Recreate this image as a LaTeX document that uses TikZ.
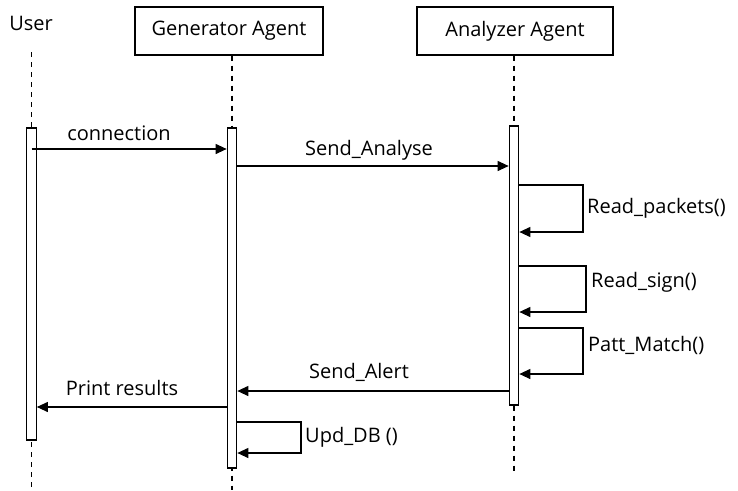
\documentclass[tikz,border=0pt]{standalone}
\usepackage{fontspec}
\setmainfont{Open Sans}
\usetikzlibrary{arrows.meta}
\begin{document}
\begin{tikzpicture}[x=1pt,y=-1pt,
  every node/.style={font=\fontsize{20}{24}\selectfont, inner sep=0pt},
  lifebox/.style={draw, line width=1.2pt, minimum height=48pt},
  actbar/.style={draw, fill=white, line width=1.2pt, minimum width=9.5pt},
  lifeline/.style={line width=1.1pt, dash pattern=on 5pt off 5pt},
  msg/.style={line width=1.1pt, -{Triangle[length=11pt,width=10pt]}},
  lbl/.style={anchor=center},
  lbll/.style={anchor=west}]
\useasboundingbox (0,0) rectangle (738,490);

% participants
\node (user) at (31,23) {User};
\node[lifebox, minimum width=188pt] (gen) at (229,31) {Generator Agent};
\node[lifebox, minimum width=196pt] (ana) at (515,31) {Analyzer Agent};

% lifelines (drawn first so the activation bars cover them)
\coordinate (uTop) at (31.5,52);
\coordinate (uEnd) at (31.5,490);
\coordinate (gEnd) at (232,490);
\coordinate (aEnd) at (514,473);
\draw[lifeline] (uTop) -- (uEnd);
\draw[lifeline] (gen.south -| gEnd) -- (gEnd);
\draw[lifeline] (ana.south -| aEnd) -- (aEnd);

% activation bars
\node[actbar, minimum height=312pt] (actU) at (31.5,284) {};
\node[actbar, minimum height=340pt] (actG) at (232,298) {};
\node[actbar, minimum height=279pt] (actA) at (514,265.5) {};

% messages
\draw[msg] (actU.center |- 0,149) -- (actG.west |- 0,149);
\node[lbl] (lConn) at (119,133) {connection};
\draw[msg] (actG.east |- 0,166) -- (actA.west |- 0,166);
\node[lbl] (lSend) at (369,150) {Send\_Analyse};

% self calls on the analyzer
\coordinate (rp) at (583,0);
\draw[msg] (actA.east |- 0,185) -| (rp |- 0,208) |- (actA.east |- 0,232);
\node[lbll] (lRP) at (587,208) {Read\_packets()};
\coordinate (rs) at (586,0);
\draw[msg] (actA.east |- 0,266) -| (rs |- 0,289) |- (actA.east |- 0,312);
\node[lbll] (lRS) at (591,282) {Read\_sign()};
\coordinate (pm) at (583,0);
\draw[msg] (actA.east |- 0,328) -| (pm |- 0,351) |- (actA.east |- 0,374);
\node[lbll] (lPM) at (588,345) {Patt\_Match()};

% replies
\draw[msg] (actA.west |- 0,391) -- (actG.east |- 0,391);
\node[lbl] (lAlert) at (359,372) {Send\_Alert};
\draw[msg] (actG.west |- 0,407) -- (actU.east |- 0,407);
\node[lbl] (lPrint) at (122,388) {Print results};

% self call on the generator
\coordinate (ud) at (301,0);
\draw[msg] (actG.east |- 0,422) -| (ud |- 0,437) |- (actG.east |- 0,453);
\node[lbll] (lUpd) at (305,437) {Upd\_DB ()};
\end{tikzpicture}
\end{document}
